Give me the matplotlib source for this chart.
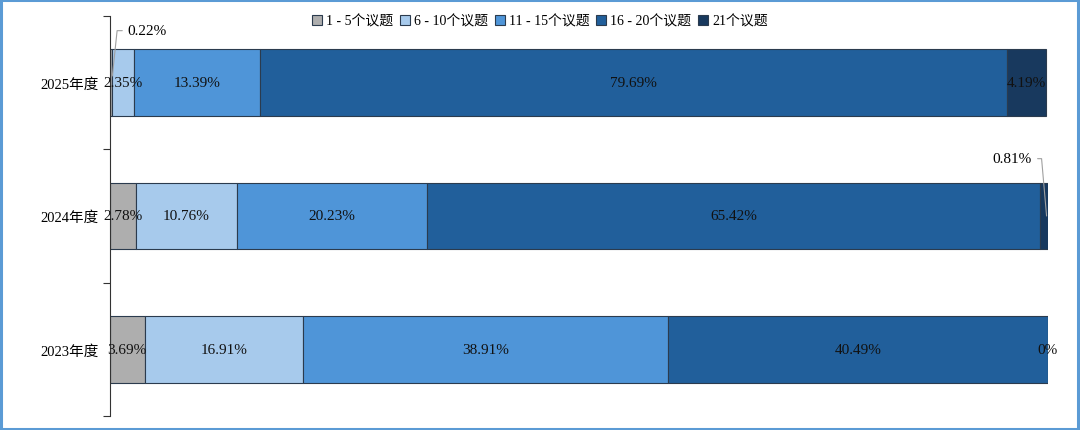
import matplotlib.pyplot as plt
from matplotlib.patches import Rectangle

plt.rcParams['font.family'] = ['Liberation Serif', 'Noto Sans CJK SC']

# data
years = ['2023年度', '2024年度', '2025年度']
series_names = ['1 - 5个议题', '6 - 10个议题', '11 - 15个议题', '16 - 20个议题', '21个议题']
s1 = [3.69, 2.78, 0.22]
s2 = [16.91, 10.76, 2.35]
s3 = [38.91, 20.23, 13.39]
s4 = [40.49, 65.42, 79.69]
s5 = [0, 0.81, 4.19]
colors = ['#AEAEAE', '#A7CAEC', '#4F95D8', '#215F9B', '#18395E']

fig = plt.figure(figsize=(10.8, 4.31), dpi=100)
ax = fig.add_axes([110 / 1080, 1 - 417 / 431, 938 / 1080, 400 / 431])

pos = list(range(len(years)))
left = [0, 0, 0]
bars = []
for vals, name, c in zip([s1, s2, s3, s4, s5], series_names, colors):
    b = ax.barh(pos, vals, 0.5, left=left, color=c, edgecolor='#2B3B4E', linewidth=0.8, label=name)
    bars.append((b, vals, left[:]))
    left = [l + v for l, v in zip(left, vals)]

# segment labels
for b, vals, lefts in bars:
    for i, (v, l) in enumerate(zip(vals, lefts)):
        if (i == 2 and v == 0.22) or (i == 1 and v == 0.81):
            continue
        ax.text(l + v / 2, i, '%g%%' % v, ha='center', va='center', fontsize=11, color='#111111')

# small labels with leader lines
ax.annotate('0.22%', xy=(0.25, 2.05), xytext=(1.9, 2.39), ha='left', va='center', fontsize=11,
            arrowprops=dict(arrowstyle='-', color='#A0A0A0', lw=0.8,
                            connectionstyle='angle,angleA=0,angleB=84,rad=0', shrinkA=2, shrinkB=0))
ax.annotate('0.81%', xy=(99.85, 1.0), xytext=(98.3, 1.43), ha='right', va='center', fontsize=11,
            arrowprops=dict(arrowstyle='-', color='#A0A0A0', lw=0.8,
                            connectionstyle='angle,angleA=0,angleB=95,rad=0', shrinkA=2, shrinkB=0))

ax.set_xlim(0, 100)
ax.set_ylim(-0.5, 2.5)
ax.set_yticks([-0.5, 0.5, 1.5, 2.5])
ax.set_yticklabels([])
ax.set_yticks(pos, minor=True)
ax.set_yticklabels(years, minor=True, fontsize=10.5)
ax.tick_params(axis='y', which='major', length=5, direction='out', color='#333333')
ax.tick_params(axis='y', which='minor', length=0, pad=8)
ax.set_xticks([])
for s in ['top', 'right', 'bottom']:
    ax.spines[s].set_visible(False)
ax.spines['left'].set_color('#333333')

fig.legend(loc='center', bbox_to_anchor=(0.5, 1 - 22 / 431), ncol=5, frameon=False, fontsize=10,
           handlelength=0.7, handleheight=0.7, handletextpad=0.3, columnspacing=0.5)

# blue frame around the picture
fig.patches.append(Rectangle((0.001, 0.002), 0.997, 0.995, transform=fig.transFigure,
                             fill=False, edgecolor='#5B9BD5', linewidth=2.2))

fig.savefig('out.png', dpi=100)
